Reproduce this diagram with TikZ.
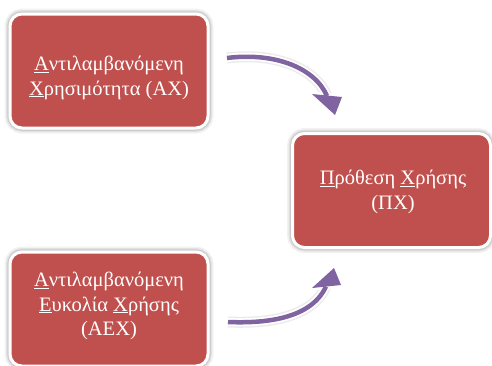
\documentclass[tikz,border=0pt]{standalone}
\usepackage{fontspec}
\setmainfont{Liberation Serif}
\definecolor{boxred}{HTML}{C0504D}
\definecolor{arrowpurple}{HTML}{8064A2}
\begin{document}
\begin{tikzpicture}[x=1pt,y=-1pt,
  box/.style={rectangle, rounded corners=12pt, fill=boxred, draw=white,
    line width=3pt, minimum width=198pt, minimum height=114pt, inner sep=0pt,
    preaction={draw=black, opacity=0.05, line width=11pt},
    preaction={draw=black, opacity=0.07, line width=8pt},
    preaction={draw=black, opacity=0.09, line width=5.5pt}},
  boxtext/.style={text=white, align=center, inner sep=0pt,
    font=\fontsize{20.5}{24.5}\selectfont},
  shaftglow/.style={draw=black, opacity=0.08, line width=11pt},
  shaftwhite/.style={draw=white, line width=8pt},
  shaftline/.style={draw=arrowpurple, line width=4.5pt},
  headwhite/.style={draw=white, fill=white, line width=5pt, line join=round},
  headfill/.style={fill=arrowpurple}
]
\useasboundingbox (0,0) rectangle (492,365);
\clip (0,0) rectangle (492,365);

% boxes
\node[box] (ax) at (109,71) {};
\node[box] (px) at (391.5,190.5) {};
\node[box] (aex) at (109,309) {};

% box texts
\node[boxtext] (axt) at (109,78) {\underline{Α}ντιλαμβανόμενη\\\underline{Χ}ρησιμότητα (ΑΧ)};
\node[boxtext] (pxt) at (393,192) {\underline{Π}ρόθεση \underline{Χ}ρήσης\\(ΠΧ)};
\node[boxtext] (aext) at (109,306) {\underline{Α}ντιλαμβανόμενη\\\underline{Ε}υκολία \underline{Χ}ρήσης\\(ΑΕΧ)};

% arrow end points
\coordinate (s1) at (227,58);
\coordinate (b1) at (327,96);
\coordinate (h1a) at (312,94);
\coordinate (h1b) at (342,97);
\coordinate (t1) at (335,115);

\coordinate (s2) at (228,322);
\coordinate (b2) at (326,286.5);
\coordinate (h2a) at (312,288);
\coordinate (h2b) at (341,285);
\coordinate (t2) at (334,268);

% upper arrow
\path[shaftglow] (s1) .. controls (275,52) and (315,68) .. (b1);
\path[shaftwhite] (s1) .. controls (275,52) and (315,68) .. (b1);
\path[headwhite] (h1a) -- (t1) -- (h1b) -- cycle;
\path[shaftline] (s1) .. controls (275,52) and (315,68) .. (b1);
\path[headfill] (h1a) -- (t1) -- (h1b) -- cycle;

% lower arrow
\path[shaftglow] (s2) .. controls (275,324) and (313,315) .. (b2);
\path[shaftwhite] (s2) .. controls (275,324) and (313,315) .. (b2);
\path[headwhite] (h2a) -- (t2) -- (h2b) -- cycle;
\path[shaftline] (s2) .. controls (275,324) and (313,315) .. (b2);
\path[headfill] (h2a) -- (t2) -- (h2b) -- cycle;
\end{tikzpicture}
\end{document}
